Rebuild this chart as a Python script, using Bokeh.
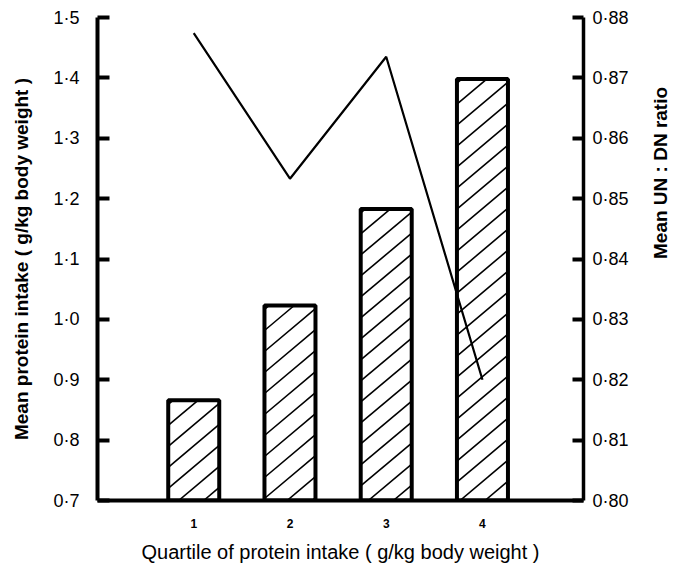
import math
from bokeh.plotting import figure
from bokeh.models import Range1d, LinearAxis, FixedTicker
from bokeh.embed import file_html
from bokeh.resources import INLINE

# ---- data ----
quartiles = [1, 2, 3, 4]
protein_intake = [0.866, 1.023, 1.183, 1.398]      # left axis, bars
un_dn_ratio = [0.8774, 0.8533, 0.8735, 0.8200]      # right axis, line

left_ticks = [0.7, 0.8, 0.9, 1.0, 1.1, 1.2, 1.3, 1.4, 1.5]
left_labels = ["0·7", "0·8", "0·9", "1·0", "1·1", "1·2", "1·3", "1·4", "1·5"]
right_ticks = [0.80, 0.81, 0.82, 0.83, 0.84, 0.85, 0.86, 0.87, 0.88]
right_labels = ["0·80", "0·81", "0·82", "0·83", "0·84", "0·85", "0·86", "0·87", "0·88"]
x_labels = ["1", "2", "3", "4"]

FONT = "Liberation Sans"

X0, X1 = 0, 5.05
Y0, Y1 = 0.7, 1.5
FRAME_W, FRAME_H = 486, 483
BAR_W = 0.53

p = figure(width=677, height=564, output_backend="svg", toolbar_location=None,
           x_range=Range1d(X0, X1), y_range=Range1d(Y0, Y1),
           min_border_left=97, min_border_right=94, min_border_top=17, min_border_bottom=64)
p.frame_width = FRAME_W
p.frame_height = FRAME_H
p.outline_line_color = None
p.xgrid.visible = False
p.ygrid.visible = False
p.background_fill_color = "white"
p.border_fill_color = "white"

p.extra_y_ranges = {"right": Range1d(0.80, 0.88)}

# bars (white fill)
p.vbar(x=quartiles, top=protein_intake, bottom=Y0, width=BAR_W,
       fill_color="white", line_color=None)

# diagonal hatching inside each bar (computed from bar geometry, ~40 degree lines)
sx = FRAME_W / (X1 - X0)   # px per x unit
sy = FRAME_H / (Y1 - Y0)   # px per y unit
slope = 0.84               # rise / run in screen pixels
step = 21.0                # vertical spacing in px
x0s, y0s, x1s, y1s = [], [], [], []
for xc, top in zip(quartiles, protein_intake):
    left = xc - BAR_W / 2
    w = BAR_W * sx
    h = (top - Y0) * sy
    c = h - 4.0
    while c > -slope * w:
        xa_ = max(0.0, (0.0 - c) / slope)
        xb_ = min(w, (h - c) / slope)
        if xb_ > xa_:
            x0s.append(left + xa_ / sx)
            y0s.append(Y0 + (c + slope * xa_) / sy)
            x1s.append(left + xb_ / sx)
            y1s.append(Y0 + (c + slope * xb_) / sy)
        c -= step
p.segment(x0=x0s, y0=y0s, x1=x1s, y1=y1s, line_color="black", line_width=1.6)

# bar outlines
p.vbar(x=quartiles, top=protein_intake, bottom=Y0, width=BAR_W,
       fill_color=None, line_color="black", line_width=4)

# line
p.line(x=quartiles, y=un_dn_ratio, y_range_name="right", line_color="black", line_width=2.2)

# left axis
la = p.yaxis[0]
la.ticker = FixedTicker(ticks=left_ticks)
la.major_label_overrides = dict(zip(left_ticks, left_labels))
la.axis_line_width = 4
la.major_tick_line_width = 4
la.major_tick_in = 12
la.major_tick_out = 0
la.minor_tick_line_color = None
la.major_label_text_font = FONT
la.major_label_text_font_size = "18px"
la.major_label_text_color = "black"
la.major_label_standoff = 18
la.axis_label = "Mean protein intake ( g/kg body weight )"
la.axis_label_text_font = FONT
la.axis_label_text_font_style = "bold"
la.axis_label_text_font_size = "19px"
la.axis_label_text_color = "black"
la.axis_label_standoff = 18

# bottom axis
xa = p.xaxis[0]
xa.ticker = FixedTicker(ticks=quartiles)
xa.major_label_overrides = dict(zip(quartiles, x_labels))
xa.axis_line_width = 4
xa.major_tick_line_color = None
xa.minor_tick_line_color = None
xa.major_label_text_font = FONT
xa.major_label_text_font_style = "bold"
xa.major_label_text_font_size = "12px"
xa.major_label_text_color = "black"
xa.major_label_standoff = 12
xa.axis_label = "Quartile of protein intake ( g/kg body weight )"
xa.axis_label_text_font = FONT
xa.axis_label_text_font_style = "normal"
xa.axis_label_text_font_size = "20px"
xa.axis_label_text_color = "black"
xa.axis_label_standoff = 10

# right axis
ra = LinearAxis(y_range_name="right", ticker=FixedTicker(ticks=right_ticks))
ra.major_label_overrides = dict(zip(right_ticks, right_labels))
ra.axis_line_width = 3.5
ra.major_tick_line_width = 4
ra.major_tick_in = 11
ra.major_tick_out = 0
ra.minor_tick_line_color = None
ra.major_label_text_font = FONT
ra.major_label_text_font_size = "18px"
ra.major_label_text_color = "black"
ra.major_label_standoff = 9
ra.axis_label = "Mean UN : DN ratio"
ra.axis_label_text_font = FONT
ra.axis_label_text_font_style = "bold"
ra.axis_label_text_font_size = "19px"
ra.axis_label_text_color = "black"
ra.axis_label_standoff = 29
ra.axis_label_orientation = math.pi / 2
p.add_layout(ra, "right")

open("out.html", "w").write(file_html(p, INLINE))
